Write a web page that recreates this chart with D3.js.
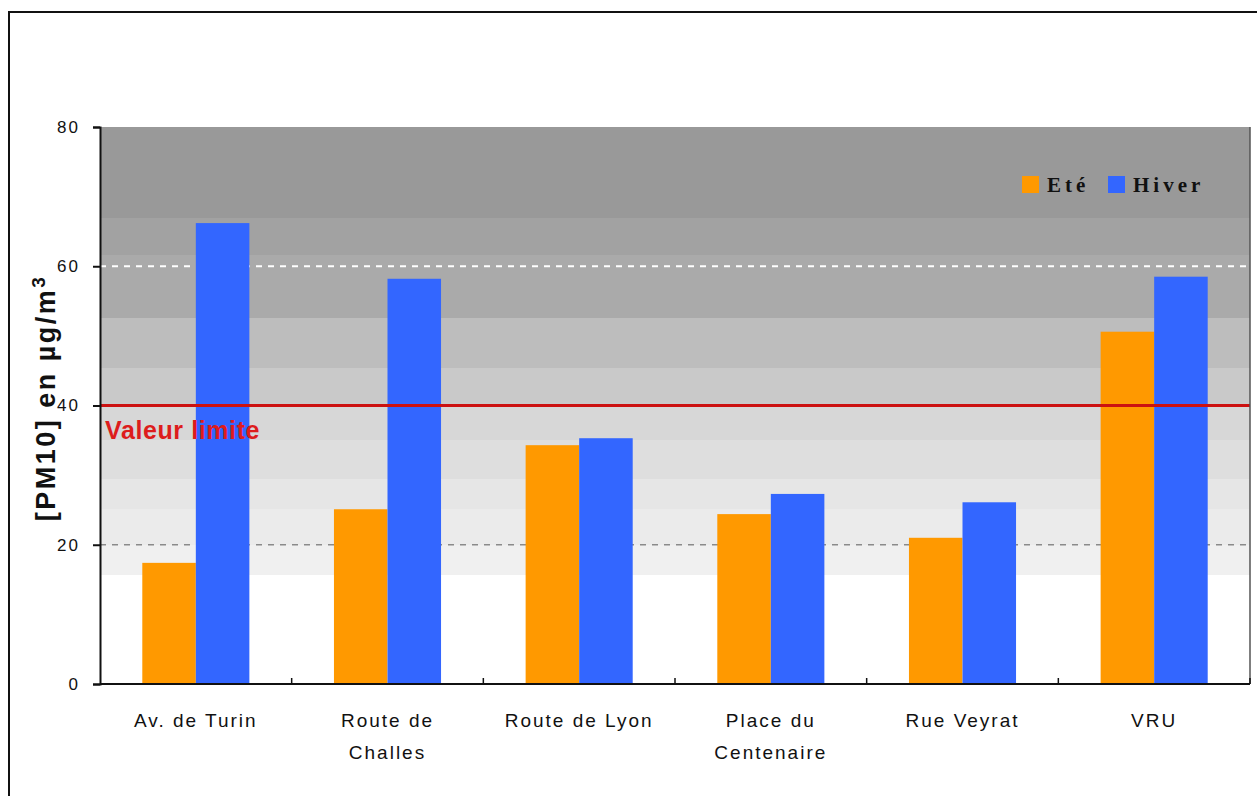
<!DOCTYPE html>
<html><head><meta charset="utf-8">
<script src="https://cdn.jsdelivr.net/npm/d3@7"></script>
<style>body{margin:0;background:#fff}svg{display:block}</style>
</head><body>
<script>
const categories = [["Av. de Turin"], ["Route de","Challes"], ["Route de Lyon"], ["Place du","Centenaire"], ["Rue Veyrat"], ["VRU"]];
const ete   = [17.4, 25.1, 34.3, 24.4, 21.0, 50.6];
const hiver = [66.2, 58.2, 35.3, 27.3, 26.1, 58.5];
const seriesNames = ["Eté", "Hiver"];
const yTicks = [0, 20, 40, 60, 80];
const limitValue = 40;
const limitLabel = "Valeur limite";
const bandEdges = [15.7, 20, 25.2, 29.4, 35, 40.2, 45.4, 52.6, 61.6, 67, 80];
const bandGrays = ["#f0f0f0","#ebebeb","#e6e6e6","#dedede","#d7d7d7","#c9c9c9","#bdbdbd","#aaaaaa","#a2a2a2","#999999"];

const W = 1257, H = 796;
const svg = d3.select("body").append("svg").attr("width", W).attr("height", H);
const m = {l:100, r:1250, t:127, b:684};
const y = d3.scaleLinear().domain([0, 80]).range([m.b, m.t]);
const x0 = d3.scaleBand().domain(d3.range(categories.length)).range([m.l, m.r]);
const x1 = d3.scaleBand().domain([0,1]).range([0, x0.bandwidth()]).paddingOuter(0.79).paddingInner(0);

// outer frame
svg.append("rect").attr("x", 9).attr("y", 12).attr("width", 1400).attr("height", 900)
  .attr("fill", "none").attr("stroke", "#111").attr("stroke-width", 2);

// background bands
const g = svg.append("g");
g.selectAll("rect.band").data(bandGrays).enter().append("rect")
  .attr("x", m.l).attr("width", m.r - m.l)
  .attr("y", (d,i) => Math.round(y(bandEdges[i+1])))
  .attr("height", (d,i) => Math.round(y(bandEdges[i])) - Math.round(y(bandEdges[i+1])))
  .attr("shape-rendering", "crispEdges")
  .attr("fill", d => d);

// dashed gridlines
g.append("line").attr("x1", m.l).attr("x2", m.r).attr("y1", y(20)).attr("y2", y(20))
  .attr("stroke", "#8a8a8a").attr("stroke-width", 1.5).attr("stroke-dasharray", "6,6");
g.append("line").attr("x1", m.l).attr("x2", m.r).attr("y1", y(60)).attr("y2", y(60))
  .attr("stroke", "#ffffff").attr("stroke-width", 2).attr("stroke-dasharray", "6,6");

// bars
const colors = ["#ff9900", "#3366ff"];
const data = [ete, hiver];
data.forEach((vals, s) => {
  g.selectAll("rect.s" + s).data(vals).enter().append("rect")
    .attr("x", (d,i) => x0(i) + x1(s))
    .attr("width", x1.bandwidth())
    .attr("y", d => y(d))
    .attr("height", d => y(0) - y(d))
    .attr("fill", colors[s]);
});

// limit line
g.append("line").attr("x1", m.l).attr("x2", m.r).attr("y1", y(limitValue)).attr("y2", y(limitValue))
  .attr("stroke", "#cc1111").attr("stroke-width", 3);
g.append("text").attr("x", 105).attr("y", y(limitValue) + 33)
  .attr("font-family", "Liberation Sans, Arial").attr("font-weight", "bold").attr("font-size", 25)
  .attr("fill", "#dd1c1c").attr("letter-spacing", "0.6").text(limitLabel);

// right border
g.append("line").attr("x1", m.r).attr("x2", m.r).attr("y1", m.t).attr("y2", m.b)
  .attr("stroke", "#555").attr("stroke-width", 1.5);

// y axis
const yAxis = svg.append("g").attr("transform", `translate(${m.l},0)`)
  .call(d3.axisLeft(y).tickValues(yTicks).tickSize(7).tickPadding(13));
yAxis.select(".domain").attr("stroke", "#111").attr("stroke-width", 2);
yAxis.selectAll(".tick line").attr("stroke", "#111").attr("stroke-width", 2);
yAxis.selectAll(".tick text").attr("font-family", "Liberation Sans, Arial").attr("font-size", 17)
  .attr("letter-spacing", "2").attr("fill", "#111");

// x axis
const xAxisLine = svg.append("g");
xAxisLine.append("line").attr("x1", m.l).attr("x2", m.r).attr("y1", m.b).attr("y2", m.b)
  .attr("stroke", "#111").attr("stroke-width", 2);
xAxisLine.selectAll("line.tk").data(d3.range(1, categories.length + 1)).enter().append("line")
  .attr("x1", i => i < categories.length ? x0(i) : m.r).attr("x2", i => i < categories.length ? x0(i) : m.r)
  .attr("y1", m.b - 6).attr("y2", m.b)
  .attr("stroke", "#111").attr("stroke-width", 1.5);
const xl = svg.append("g").selectAll("text").data(categories).enter().append("text")
  .attr("x", (d,i) => x0(i) + x0.bandwidth()/2)
  .attr("y", 727)
  .attr("text-anchor", "middle")
  .attr("font-family", "Liberation Sans, Arial").attr("font-size", 19)
  .attr("letter-spacing", "2").attr("fill", "#111");
xl.each(function(d) {
  const t = d3.select(this);
  d.forEach((line, k) => t.append("tspan").attr("x", t.attr("x")).attr("dy", k === 0 ? 0 : 32).text(line));
});

// y title
const yt = svg.append("text").attr("transform", `translate(55,398) rotate(-90)`)
  .attr("text-anchor", "middle").attr("font-family", "Liberation Sans, Arial")
  .attr("font-weight", "bold").attr("font-size", 27).attr("fill", "#111").attr("letter-spacing", "2.5");
yt.append("tspan").text("[PM10] en µg/m");
yt.append("tspan").attr("baseline-shift", "super").attr("font-size", 19).text("3");

// legend
const leg = svg.append("g");
const legX = [1022, 1108];
seriesNames.forEach((n, s) => {
  leg.append("rect").attr("x", legX[s]).attr("y", 176).attr("width", 17).attr("height", 17).attr("fill", colors[s]);
  leg.append("text").attr("x", legX[s] + 25).attr("y", 192)
    .attr("font-family", "Liberation Serif, Times New Roman").attr("font-weight", "bold").attr("font-size", 21)
    .attr("fill", "#111").attr("letter-spacing", "4").text(n);
});
</script>
</body></html>
